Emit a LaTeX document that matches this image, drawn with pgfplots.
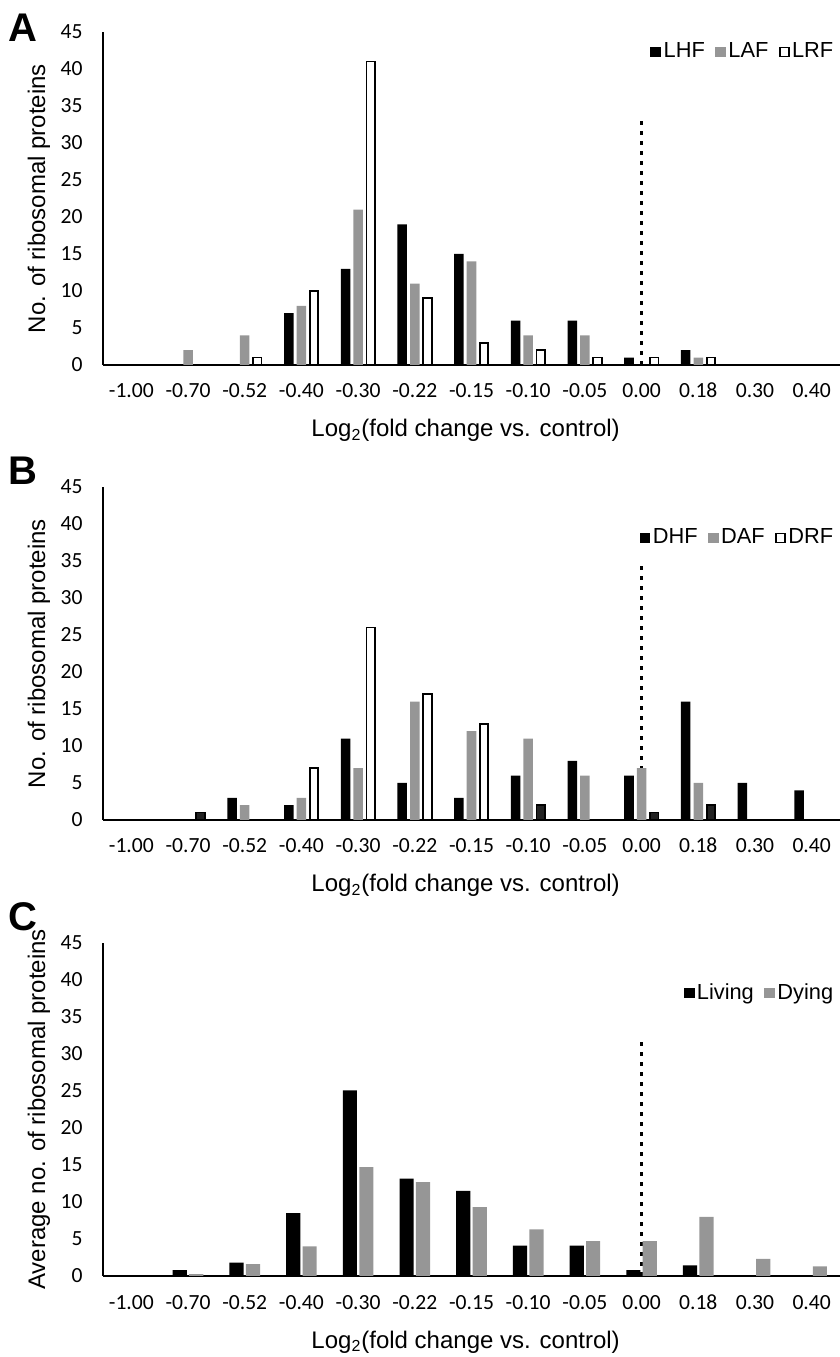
\documentclass[border=0pt]{standalone}
\usepackage{fontspec}
\setmainfont{Liberation Sans}
\newfontfamily\tickfont{Carlito}
\usepackage{pgfplots}
\pgfplotsset{compat=1.18}

\definecolor{bargray}{RGB}{150,150,150}
\definecolor{bardark}{RGB}{34,34,34}

\pgfplotsset{
  panel/.style={
    scale only axis, width=368.5pt, height=166.5pt,
    xmin=-0.5, xmax=12.5, ymin=0, ymax=45,
    axis lines*=left,
    axis line style={line width=1pt, black},
    xtick={0,...,12},
    xticklabels={-1.00,-0.70,-0.52,-0.40,-0.30,-0.22,-0.15,-0.10,-0.05,0.00,0.18,0.30,0.40},
    ytick={0,5,...,45},
    major tick length=0pt,
    /pgf/number format/assume math mode=true,
    ticklabel style={font=\tickfont\fontsize{10.8}{12}\selectfont},
    xticklabel style={anchor=base, yshift=-16.5pt},
    yticklabel style={anchor=east, inner sep=0pt, xshift=-10pt},
    every axis y label/.style={at={(axis description cs:-0.087,0.5)}, rotate=90, anchor=center, font=\fontsize{12}{14}\selectfont},
    every axis x label/.style={at={(axis description cs:0.492,0)}, anchor=base, yshift=-36pt, font=\fontsize{12}{14}\selectfont},
    xlabel={Log\textsubscript{2}(fold change vs. control)},
    legend columns=-1,
    legend style={draw=none, fill=none, font=\fontsize{10.9}{12}\selectfont, anchor=east,
      inner sep=0pt, nodes={inner sep=1.2pt},
      /tikz/every even column/.append style={column sep=4pt}},
  },
  blk/.style={ybar, fill=black, draw=none,
    legend image code/.code={\fill[black] (0pt,-2.7pt) rectangle (5.4pt,2.7pt);}},
  gry/.style={ybar, fill=bargray, draw=none,
    legend image code/.code={\fill[bargray] (0pt,-2.7pt) rectangle (5.4pt,2.7pt);}},
  wht/.style={ybar, fill=white, draw=black, line width=0.9pt,
    legend image code/.code={\draw[black, fill=white, line width=0.9pt] (0.45pt,-2.25pt) rectangle (4.95pt,2.25pt);}},
  zeroline/.style={forget plot, black, line width=1.3pt, dash pattern=on 2pt off 3pt},
}

\begin{document}
\begin{tikzpicture}
\useasboundingbox (0,0) rectangle (420pt,678.5pt);

% Panel A
\begin{axis}[panel, at={(51.5pt,496pt)}, anchor=south west,
  ylabel={No. of ribosomal proteins},
  legend style={at={(1,0.94)}, xshift=-2pt}]
\addplot[zeroline] coordinates {(9,0) (9,33.3)};
\addplot[blk, bar width=0.168, bar shift=-0.222] coordinates {
  (3,7) (4,13) (5,19) (6,15) (7,6) (8,6) (9,1) (10,2)};
\addlegendentry{LHF}
\addplot[gry, bar width=0.168, bar shift=0] coordinates {
  (1,2) (2,4) (3,8) (4,21) (5,11) (6,14) (7,4) (8,4) (10,1)};
\addlegendentry{LAF}
\addplot[wht, bar width=0.15, bar shift=0.222] coordinates {
  (2,1) (3,10) (4,41) (5,9) (6,3) (7,2) (8,1) (9,1) (10,1)};
\addlegendentry{LRF}
\end{axis}

% Panel B
\begin{axis}[panel, at={(51.5pt,268.5pt)}, anchor=south west,
  ylabel={No. of ribosomal proteins},
  legend style={at={(1,0.847)}, xshift=-2pt}]
\addplot[zeroline] coordinates {(9,0) (9,34.7)};
\addplot[blk, bar width=0.168, bar shift=-0.222] coordinates {
  (2,3) (3,2) (4,11) (5,5) (6,3) (7,6) (8,8) (9,6) (10,16) (11,5) (12,4)};
\addlegendentry{DHF}
\addplot[gry, bar width=0.168, bar shift=0] coordinates {
  (2,2) (3,3) (4,7) (5,16) (6,12) (7,11) (8,6) (9,7) (10,5)};
\addlegendentry{DAF}
\addplot[wht, bar width=0.15, bar shift=0.222] coordinates {
  (3,7) (4,26) (5,17) (6,13)};
\addlegendentry{DRF}
\addplot[forget plot, ybar, fill=bardark, draw=black, line width=0.9pt, bar width=0.15, bar shift=0.222] coordinates {
  (1,1) (7,2) (9,1) (10,2)};
\end{axis}

% Panel C
\begin{axis}[panel, at={(51.5pt,40.5pt)}, anchor=south west,
  ylabel={Average no. of ribosomal proteins},
  legend style={at={(1,0.85)}, xshift=-2pt}]
\addplot[zeroline] coordinates {(9,0) (9,32.2)};
\addplot[blk, bar width=0.25, bar shift=-0.145] coordinates {
  (1,0.8) (2,1.8) (3,8.5) (4,25.1) (5,13.15) (6,11.5) (7,4.1) (8,4.1) (9,0.8) (10,1.45)};
\addlegendentry{Living}
\addplot[gry, bar width=0.25, bar shift=0.145] coordinates {
  (1,0.27) (2,1.6) (3,4.0) (4,14.7) (5,12.7) (6,9.3) (7,6.3) (8,4.7) (9,4.7) (10,8.0) (11,2.3) (12,1.3)};
\addlegendentry{Dying}
\end{axis}

\node[anchor=base west, inner sep=0pt, font=\bfseries\fontsize{20}{20}\selectfont] at (4pt,657.7pt) {A};
\node[anchor=base west, inner sep=0pt, font=\bfseries\fontsize{20}{20}\selectfont] at (4pt,436pt) {B};
\node[anchor=base west, inner sep=0pt, font=\bfseries\fontsize{20}{20}\selectfont] at (4pt,213pt) {C};
\end{tikzpicture}
\end{document}
